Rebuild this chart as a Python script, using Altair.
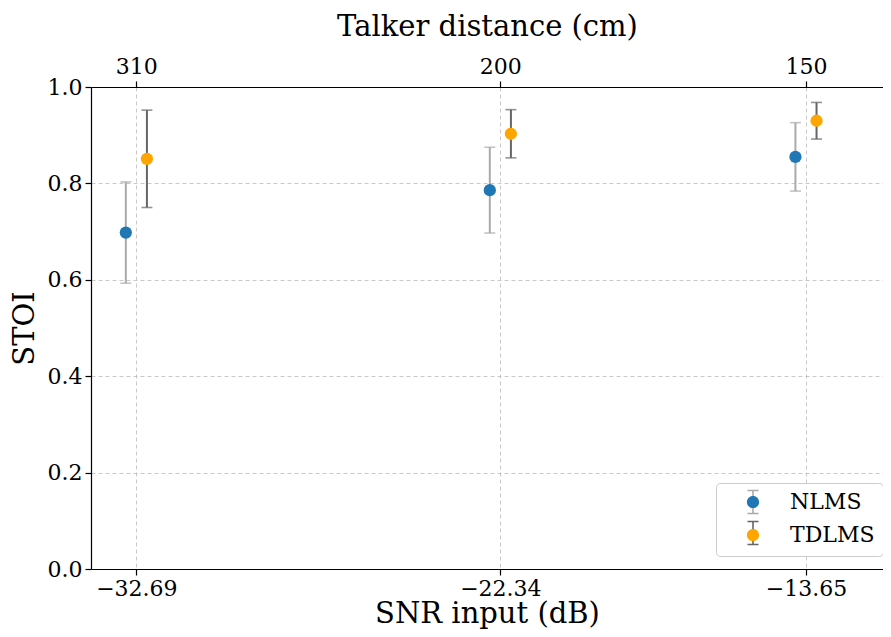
import altair as alt
import pandas as pd

snr = [-32.69, -22.34, -13.65]
distance = ["310", "200", "150"]
series = ["NLMS", "TDLMS"]
nlms_mean = [0.698, 0.786, 0.855]
nlms_err = [0.105, 0.089, 0.071]
tdlms_mean = [0.851, 0.903, 0.930]
tdlms_err = [0.101, 0.050, 0.038]
offset_db = [-0.3, 0.3]

rows = []
for s, means, errs, off in [("NLMS", nlms_mean, nlms_err, offset_db[0]),
                            ("TDLMS", tdlms_mean, tdlms_err, offset_db[1])]:
    for x, m, e in zip(snr, means, errs):
        rows.append({"series": s, "snr": x, "xpos": x + off, "mean": m,
                     "lo": m - e, "hi": m + e})
df = pd.DataFrame(rows)

FONT = "DejaVu Serif"
xdom = [-33.98, -11.46]
xscale = alt.Scale(domain=xdom, nice=False, zero=False)
yscale = alt.Scale(domain=[0, 1], nice=False)

top_expr = ""
for v, d in zip(snr, distance):
    top_expr += f"abs(datum.value - ({v})) < 0.01 ? '{d}' : "
top_expr += "''"

bottom_axis = alt.Axis(values=snr, title="SNR input (dB)",
                       labelExpr="replace(format(datum.value, '.2f'), '-', '\u2212')",
                       grid=True, gridDash=[4, 3], gridColor="#bbbbbb", gridWidth=0.8,
                       labelPadding=3, titlePadding=0)
top_axis = alt.Axis(values=snr, orient="top", title="Talker distance (cm)",
                    labelExpr=top_expr, grid=False, labelPadding=3, titlePadding=14)
y_axis = alt.Axis(values=[0, 0.2, 0.4, 0.6, 0.8, 1.0], format=".1f", title="STOI",
                  grid=True, gridDash=[4, 3], gridColor="#bbbbbb", gridWidth=0.8,
                  labelPadding=3, titlePadding=8)

stroke_scale = alt.Scale(domain=series, range=["#aaaaaa", "#666666"])
fill_scale = alt.Scale(domain=series, range=["#1f77b4", "#ffa500"])

bar_path = "M-0.9,-1.88L0.9,-1.88M0,-1.88L0,1.88M-0.9,1.88L0.9,1.88"
circ_path = bar_path + "M-1,0A1,1 0 1,1 1,0A1,1 0 1,1 -1,0Z"

SYM = 150
common_leg = dict(orient="none", legendX=625, legendY=396, title=None,
                  symbolSize=SYM, symbolOffset=18, labelOffset=26,
                  padding=8, labelFontSize=22, labelFont=FONT)

base = alt.Chart(df)

rules = base.mark_rule(strokeWidth=2).encode(
    x=alt.X("xpos:Q", scale=xscale, axis=bottom_axis),
    y=alt.Y("lo:Q", scale=yscale, axis=y_axis),
    y2="hi:Q",
    stroke=alt.Stroke("series:N", scale=stroke_scale,
                      legend=alt.Legend(symbolType=bar_path, symbolStrokeWidth=1.6,
                                        symbolFillColor="transparent",
                                        labelColor="transparent", rowPadding=1,
                                        fillColor="white", strokeColor="#cccccc",
                                        cornerRadius=4, **common_leg)),
)
caps_lo = base.mark_tick(orient="horizontal", size=11, thickness=1.6).encode(
    x=alt.X("xpos:Q", scale=xscale, axis=None), y=alt.Y("lo:Q", scale=yscale, axis=y_axis),
    color=alt.Color("series:N", scale=stroke_scale, legend=None))
caps_hi = base.mark_tick(orient="horizontal", size=11, thickness=1.6).encode(
    x=alt.X("xpos:Q", scale=xscale, axis=None), y=alt.Y("hi:Q", scale=yscale, axis=y_axis),
    color=alt.Color("series:N", scale=stroke_scale, legend=None))
points = base.mark_point(filled=True, opacity=1, strokeWidth=0, size=SYM).encode(
    x=alt.X("xpos:Q", scale=xscale, axis=None), y=alt.Y("mean:Q", scale=yscale, axis=y_axis),
    fill=alt.Fill("series:N", scale=fill_scale,
                  legend=alt.Legend(symbolType=circ_path, symbolStrokeWidth=0,
                                    labelColor="black", rowPadding=9, **common_leg)),
)
top = base.mark_point(opacity=0).encode(
    x=alt.X("snr:Q", scale=xscale, axis=top_axis),
    y=alt.Y("mean:Q", scale=yscale, axis=y_axis))

chart = alt.layer(rules, caps_lo, caps_hi, top, points).resolve_axis(
    x="independent").resolve_scale(color="independent").resolve_legend(
    fill="independent", stroke="independent").properties(
    width=792, height=482,
    autosize=alt.AutoSizeParams(type="none"),
    padding={"left": 83, "top": 79, "right": 0, "bottom": 60},
).configure_axis(
    labelFont=FONT, labelFontSize=22, labelColor="black",
    titleFont=FONT, titleFontSize=29, titleFontWeight="normal", titleColor="black",
    domainColor="black", domainWidth=1.2, tickColor="black", tickSize=6, tickWidth=1.2,
).configure_view(stroke=None)

chart.save("out.html", embed_options={"renderer": "svg", "actions": False})
